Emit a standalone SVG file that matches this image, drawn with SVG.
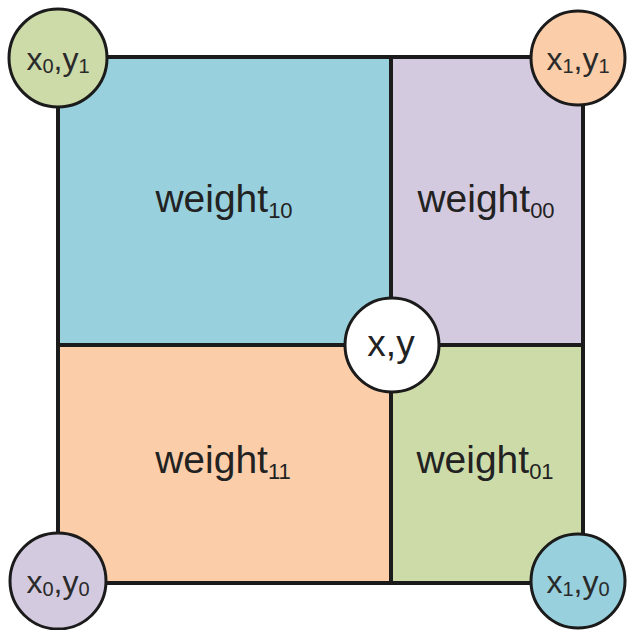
<svg xmlns="http://www.w3.org/2000/svg" width="627" height="630" viewBox="0 0 627 630">
<style>
.cell{stroke:none}
.line{stroke:#1b1b1b;stroke-width:4;fill:none}
.circ{stroke:#1b1b1b;stroke-width:3}
.lbl{font-family:"Liberation Sans",Arial,sans-serif;font-size:39px;fill:#222;text-anchor:middle}
.sub{font-size:22px}
.clbl{font-family:"Liberation Sans",Arial,sans-serif;font-size:32px;fill:#2a2a2a;text-anchor:middle}
.csub{font-size:20px}
</style>
<rect width="627" height="630" fill="#ffffff"/>
<g id="cell-10"><rect class="cell" x="58" y="57" width="333" height="288" fill="#98d0dd"/><text class="lbl" x="224" y="212">weight<tspan class="sub" dy="6">10</tspan></text></g>
<g id="cell-00"><rect class="cell" x="391" y="57" width="192" height="288" fill="#d4cae0"/><text class="lbl" x="486" y="212">weight<tspan class="sub" dy="6">00</tspan></text></g>
<g id="cell-11"><rect class="cell" x="58" y="345" width="333" height="238" fill="#fbcea9"/><text class="lbl" x="223" y="473">weight<tspan class="sub" dy="6">11</tspan></text></g>
<g id="cell-01"><rect class="cell" x="391" y="345" width="192" height="238" fill="#cddba9"/><text class="lbl" x="485" y="473">weight<tspan class="sub" dy="6">01</tspan></text></g>
<g id="connectors">
<rect class="line" x="58" y="57" width="525" height="526"/>
<line class="line" x1="391" y1="57" x2="391" y2="583"/>
<line class="line" x1="58" y1="345" x2="583" y2="345"/>
</g>
<g id="corner-x0y1"><circle class="circ" cx="58" cy="58" r="49" fill="#cddba9"/><text class="clbl" x="58" y="70">x<tspan class="csub" dy="3">0</tspan><tspan dy="-3">,y</tspan><tspan class="csub" dy="3">1</tspan></text></g>
<g id="corner-x1y1"><circle class="circ" cx="578" cy="58" r="47" fill="#fbcea9"/><text class="clbl" x="578" y="70">x<tspan class="csub" dy="3">1</tspan><tspan dy="-3">,y</tspan><tspan class="csub" dy="3">1</tspan></text></g>
<g id="corner-x0y0"><circle class="circ" cx="58" cy="581" r="48" fill="#d4cae0"/><text class="clbl" x="58" y="593">x<tspan class="csub" dy="3">0</tspan><tspan dy="-3">,y</tspan><tspan class="csub" dy="3">0</tspan></text></g>
<g id="corner-x1y0"><circle class="circ" cx="578" cy="581" r="47" fill="#98d0dd"/><text class="clbl" x="578" y="593">x<tspan class="csub" dy="3">1</tspan><tspan dy="-3">,y</tspan><tspan class="csub" dy="3">0</tspan></text></g>
<g id="center-xy"><circle class="circ" cx="392" cy="345" r="47" fill="#ffffff"/><text class="lbl" x="391" y="356" style="font-size:37px">x,y</text></g>
</svg>
